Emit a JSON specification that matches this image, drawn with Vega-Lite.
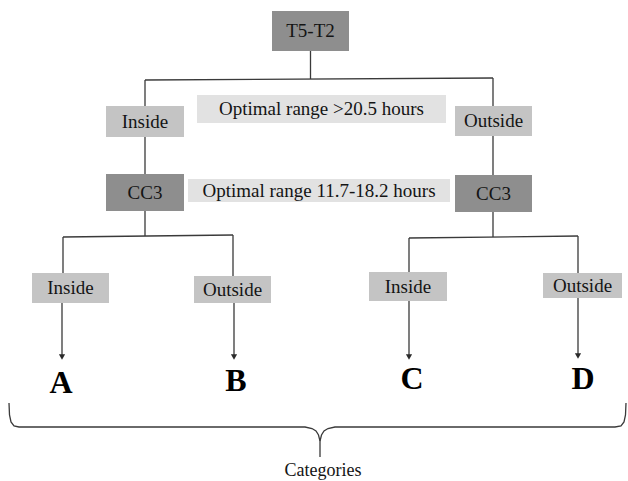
{
  "$schema": "https://vega.github.io/schema/vega-lite/v6.json",
  "width": 628,
  "height": 481,
  "autosize": {"type": "none"},
  "padding": 0,
  "background": "white",
  "config": {"view": {"stroke": null}},
  "datasets": {
    "boxes": [
      {"label": "T5-T2", "kind": "node", "x0": 272, "x1": 349, "y0": 11, "y1": 51, "cx": 310.5, "cy": 31},
      {"label": "Inside", "kind": "choice", "x0": 106, "x1": 184, "y0": 106, "y1": 137, "cx": 145, "cy": 121.5},
      {"label": "Optimal range >20.5 hours", "kind": "note", "x0": 197, "x1": 446, "y0": 95, "y1": 123, "cx": 321.5, "cy": 109},
      {"label": "Outside", "kind": "choice", "x0": 455, "x1": 532, "y0": 106, "y1": 136, "cx": 493.5, "cy": 121},
      {"label": "CC3", "kind": "node", "x0": 106, "x1": 184, "y0": 174, "y1": 211, "cx": 145, "cy": 192.5},
      {"label": "Optimal range 11.7-18.2 hours", "kind": "note", "x0": 188, "x1": 450, "y0": 179, "y1": 202, "cx": 319, "cy": 190.5},
      {"label": "CC3", "kind": "node", "x0": 455, "x1": 532, "y0": 175, "y1": 212, "cx": 493.5, "cy": 193.5},
      {"label": "Inside", "kind": "choice", "x0": 32, "x1": 109, "y0": 273, "y1": 303, "cx": 70.5, "cy": 288},
      {"label": "Outside", "kind": "choice", "x0": 194, "x1": 271, "y0": 276, "y1": 303, "cx": 232.5, "cy": 289.5},
      {"label": "Inside", "kind": "choice", "x0": 369, "x1": 447, "y0": 272, "y1": 301, "cx": 408, "cy": 286.5},
      {"label": "Outside", "kind": "choice", "x0": 543, "x1": 622, "y0": 273, "y1": 298, "cx": 582.5, "cy": 285.5}
    ],
    "segments": [
      {"x": 310.5, "y": 51, "x2": 310.5, "y2": 79},
      {"x": 145, "y": 80, "x2": 493, "y2": 78},
      {"x": 145, "y": 80, "x2": 145, "y2": 106},
      {"x": 493, "y": 78, "x2": 493, "y2": 106},
      {"x": 145, "y": 137, "x2": 145, "y2": 174},
      {"x": 493, "y": 136, "x2": 493, "y2": 175},
      {"x": 145, "y": 211, "x2": 145, "y2": 236},
      {"x": 63, "y": 237, "x2": 233, "y2": 235},
      {"x": 63, "y": 237, "x2": 63, "y2": 273},
      {"x": 233, "y": 235, "x2": 233, "y2": 276},
      {"x": 493, "y": 212, "x2": 493, "y2": 237},
      {"x": 409, "y": 238, "x2": 578, "y2": 236},
      {"x": 409, "y": 238, "x2": 409, "y2": 272},
      {"x": 578, "y": 236, "x2": 578, "y2": 273},
      {"x": 62, "y": 303, "x2": 62, "y2": 356},
      {"x": 234, "y": 303, "x2": 234, "y2": 356},
      {"x": 409, "y": 301, "x2": 409, "y2": 356},
      {"x": 578, "y": 298, "x2": 578, "y2": 355}
    ],
    "tips": [
      {"x": 62, "y": 357},
      {"x": 234, "y": 357},
      {"x": 409, "y": 357},
      {"x": 578, "y": 356}
    ],
    "letters": [
      {"label": "A", "x": 61, "y": 383},
      {"label": "B", "x": 236, "y": 381},
      {"label": "C", "x": 412, "y": 379},
      {"label": "D", "x": 583, "y": 379}
    ],
    "brace": [
      {"side": "L", "o": 1, "x": 9, "y": 403},
      {"side": "L", "o": 2, "x": 9.5, "y": 415},
      {"side": "L", "o": 3, "x": 11, "y": 422},
      {"side": "L", "o": 4, "x": 14, "y": 426},
      {"side": "L", "o": 5, "x": 19, "y": 427},
      {"side": "L", "o": 6, "x": 305, "y": 427},
      {"side": "L", "o": 7, "x": 312, "y": 428.5},
      {"side": "L", "o": 8, "x": 316, "y": 431},
      {"side": "L", "o": 9, "x": 318.5, "y": 435},
      {"side": "L", "o": 10, "x": 320, "y": 441},
      {"side": "L", "o": 11, "x": 320, "y": 457},
      {"side": "R", "o": 1, "x": 320, "y": 441},
      {"side": "R", "o": 2, "x": 321.5, "y": 435},
      {"side": "R", "o": 3, "x": 324, "y": 431},
      {"side": "R", "o": 4, "x": 328, "y": 428.5},
      {"side": "R", "o": 5, "x": 335, "y": 427},
      {"side": "R", "o": 6, "x": 615, "y": 427},
      {"side": "R", "o": 7, "x": 621, "y": 426},
      {"side": "R", "o": 8, "x": 624, "y": 422},
      {"side": "R", "o": 9, "x": 625.5, "y": 415},
      {"side": "R", "o": 10, "x": 626, "y": 403}
    ],
    "caption": [
      {"label": "Categories", "x": 323, "y": 471}
    ]
  },
  "layer": [
    {
      "data": {"name": "boxes"},
      "mark": {"type": "rect"},
      "encoding": {
        "x": {"field": "x0", "type": "quantitative", "scale": {"domain": [0, 628], "nice": false, "zero": false}, "axis": null},
        "x2": {"field": "x1"},
        "y": {"field": "y0", "type": "quantitative", "scale": {"domain": [0, 481], "nice": false, "zero": false, "reverse": true}, "axis": null},
        "y2": {"field": "y1"},
        "fill": {"field": "kind", "type": "nominal", "scale": {"domain": ["node", "choice", "note"], "range": ["#8e8e8e", "#c4c4c4", "#e2e2e2"]}, "legend": null}
      }
    },
    {
      "data": {"name": "segments"},
      "mark": {"type": "rule", "stroke": "#3a3a3a", "strokeWidth": 1.3},
      "encoding": {
        "x": {"field": "x", "type": "quantitative"},
        "x2": {"field": "x2"},
        "y": {"field": "y", "type": "quantitative"},
        "y2": {"field": "y2"}
      }
    },
    {
      "data": {"name": "tips"},
      "mark": {"type": "point", "shape": "triangle-down", "filled": true, "fill": "#2a2a2a", "size": 38, "opacity": 1},
      "encoding": {
        "x": {"field": "x", "type": "quantitative"},
        "y": {"field": "y", "type": "quantitative"}
      }
    },
    {
      "data": {"name": "brace"},
      "mark": {"type": "line", "stroke": "#3a3a3a", "strokeWidth": 1.3},
      "encoding": {
        "x": {"field": "x", "type": "quantitative"},
        "y": {"field": "y", "type": "quantitative"},
        "detail": {"field": "side", "type": "nominal"},
        "order": {"field": "o", "type": "quantitative"}
      }
    },
    {
      "data": {"name": "boxes"},
      "mark": {"type": "text", "font": "Liberation Serif", "fontSize": 19, "color": "#141414", "baseline": "middle", "align": "center"},
      "encoding": {
        "x": {"field": "cx", "type": "quantitative"},
        "y": {"field": "cy", "type": "quantitative"},
        "text": {"field": "label", "type": "nominal"}
      }
    },
    {
      "data": {"name": "letters"},
      "mark": {"type": "text", "font": "Liberation Serif", "fontSize": 32, "fontWeight": "bold", "color": "#000000", "baseline": "middle", "align": "center"},
      "encoding": {
        "x": {"field": "x", "type": "quantitative"},
        "y": {"field": "y", "type": "quantitative"},
        "text": {"field": "label", "type": "nominal"}
      }
    },
    {
      "data": {"name": "caption"},
      "mark": {"type": "text", "font": "Liberation Serif", "fontSize": 18, "color": "#141414", "baseline": "middle", "align": "center"},
      "encoding": {
        "x": {"field": "x", "type": "quantitative"},
        "y": {"field": "y", "type": "quantitative"},
        "text": {"field": "label", "type": "nominal"}
      }
    }
  ]
}
